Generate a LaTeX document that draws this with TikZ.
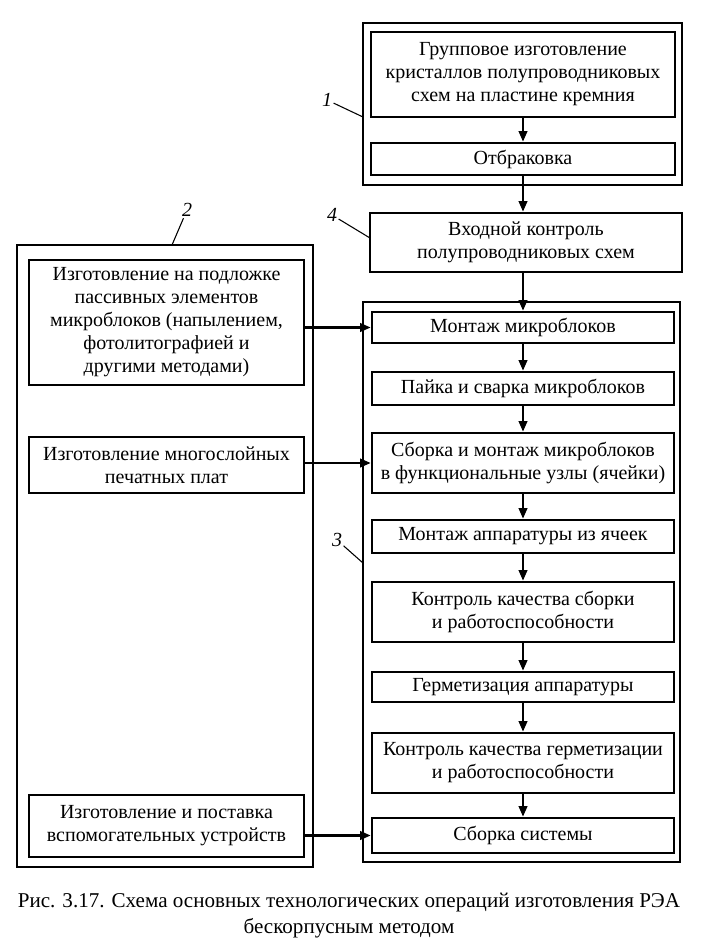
\documentclass[tikz,border=0pt]{standalone}
\usepackage{fontspec}
\setmainfont{Liberation Serif}
\usetikzlibrary{arrows.meta,positioning,calc}
\tikzset{x=0.75pt, y=-0.75pt, % one unit is one pixel of the scan, y runs down
        op/.style n args={2}{ % an operation box: width and height in pixels
            draw,
            line width=2pt,
            align=center,
            inner sep=1pt,
            minimum width=#1*0.75pt,
            minimum height=#2*0.75pt,
            font=\fontsize{15}{17.25}\selectfont},
        frame/.style={ % thin frame round a group of operations
            draw,
            line width=1.1pt},
        flow/.style={ % flow between operations
            draw,
            -{Triangle[length=8pt,width=6.5pt]},
            line width=1.6pt},
        num/.style={ % number of a group
            inner sep=1pt,
            font=\fontsize{15}{17}\selectfont\itshape},
        lead/.style={
            draw,
            line width=0.8pt}
        }

\begin{document}
\begin{tikzpicture}
    \useasboundingbox (0,0) rectangle (705,949);

    % group frames
    \draw[frame] (363,23) rectangle (682,185);
    \draw[frame] (17,245) rectangle (313,867);
    \draw[frame] (363,302) rectangle (680,862);

    % right column
    \node[op={304}{85}] (grow) at (523,74.5) {Групповое изготовление\\кристаллов полупроводниковых\\схем на пластине кремния};
    \node[op={304}{32}] (reject) at (523,159) {Отбраковка};
    \node[op={312}{59}] (incheck) at (526,242.5) {Входной контроль\\полупроводниковых схем};
    \node[op={302}{31}] (mount) at (523,327.5) {Монтаж микроблоков};
    \node[op={302}{33}] (solder) at (523,388.5) {Пайка и сварка микроблоков};
    \node[op={302}{60}] (cells) at (523,463) {Сборка и монтаж микроблоков\\в функциональные узлы (ячейки)};
    \node[op={302}{33}] (unit) at (523,536.5) {Монтаж аппаратуры из ячеек};
    \node[op={302}{60}] (check) at (523,612) {Контроль качества сборки\\и работоспособности};
    \node[op={302}{30}] (seal) at (523,687) {Герметизация аппаратуры};
    \node[op={302}{60}] (sealcheck) at (523,763) {Контроль качества герметизации\\и работоспособности};
    \node[op={302}{35}] (system) at (523,835.5) {Сборка системы};

    % left column
    \node[op={275}{125}] (passive) at (166.5,322.5) {Изготовление на подложке\\пассивных элементов\\микроблоков (напылением,\\фотолитографией и\\другими методами)};
    \node[op={275}{56}] (boards) at (166.5,465) {Изготовление многослойных\\печатных плат};
    \node[op={275}{62}] (aux) at (166.5,826) {Изготовление и поставка\\вспомогательных устройств};

    % flow
    \foreach \from/\to in {grow/reject, mount/solder, solder/cells, cells/unit,
                           unit/check, check/seal, seal/sealcheck, sealcheck/system}
        \draw[flow] (\from) -- (\to);
    \draw[flow] (reject.south) -- (reject.south |- incheck.north);
    \draw[flow] (mount |- incheck.south) -- (mount.north);
    \draw[flow] (passive.east |- mount) -- (mount.west);
    \draw[flow] (boards.east |- cells) -- (cells.west);
    \draw[flow] (aux.east |- system) -- (system.west);

    % group numbers
    \node[num] (n1) at (327,100) {1};
    \node[num] (n2) at (187,210) {2};
    \node[num] (n3) at (337,540) {3};
    \node[num] (n4) at (332,215) {4};
    \coordinate (n1e) at (363,117);
    \coordinate (n2e) at (172,245);
    \coordinate (n3e) at (363,563);
    \coordinate (n4e) at (370,238);
    \foreach \n in {n1,n2,n3,n4}
        \draw[lead] (\n) -- (\n e);

    % caption
    \node[align=center, font=\fontsize{15.8}{19.5}\selectfont] (caption) at (349,916)
        {Рис. 3.17. Схема основных технологических операций изготовления РЭА\\бескорпусным методом};
\end{tikzpicture}
\end{document}
